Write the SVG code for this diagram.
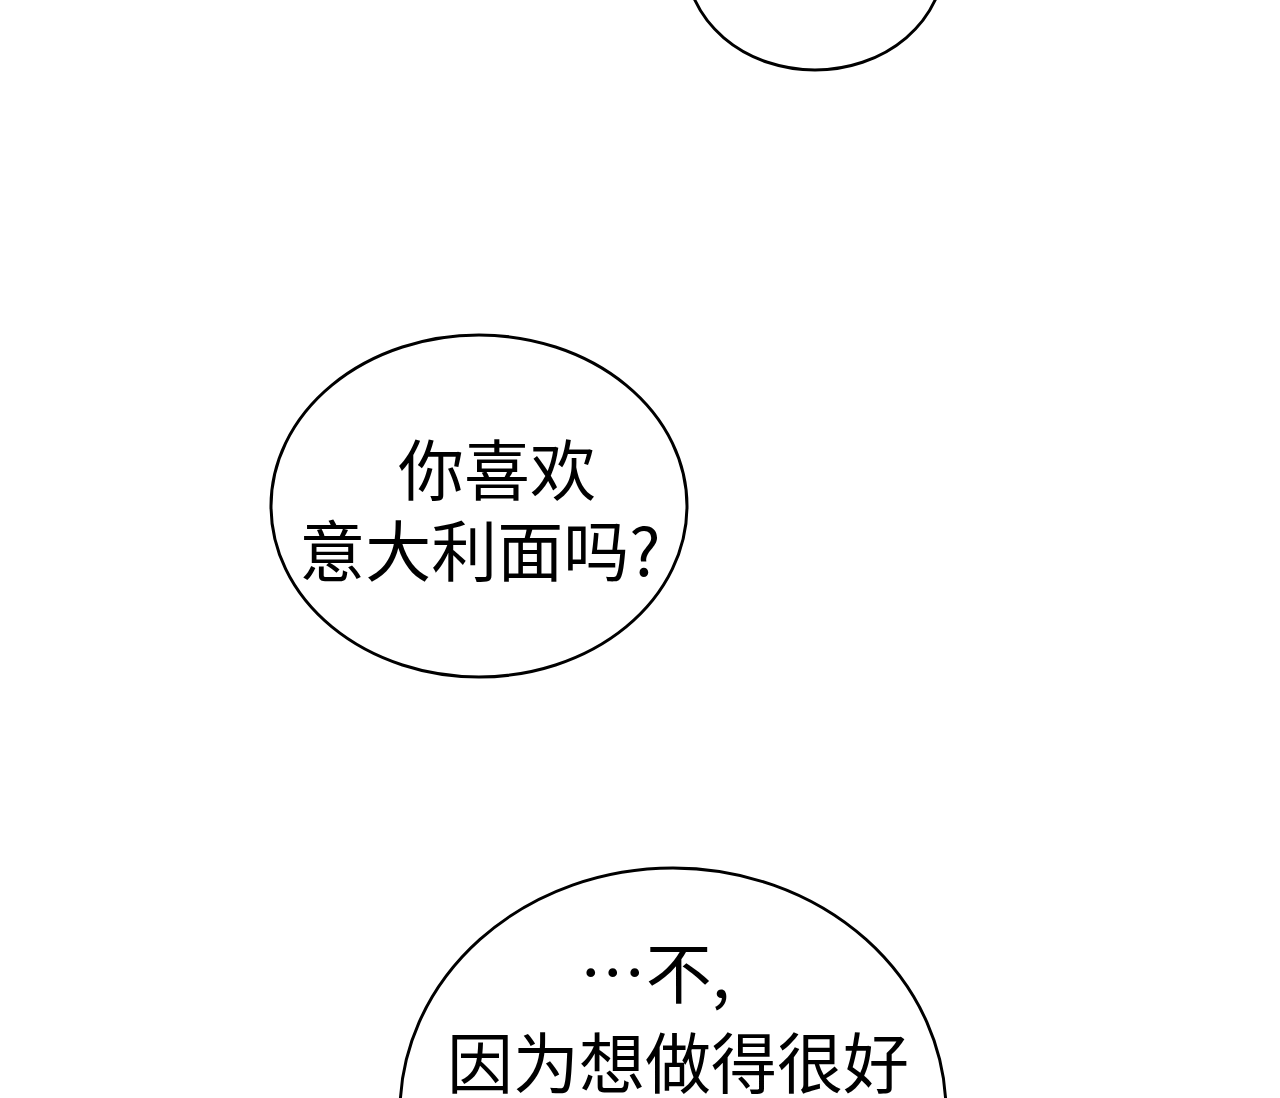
<svg xmlns="http://www.w3.org/2000/svg" width="1280" height="1098" viewBox="0 0 1280 1098">
<style>
.b{fill:#fff;stroke:#000;stroke-width:3}
.t{font-family:"Noto Sans CJK SC",sans-serif;fill:#000;text-anchor:middle;font-size:66px;font-weight:400}
</style>
<rect width="1280" height="1098" fill="#fff"/>
<g id="bubble1"><ellipse class="b" cx="815" cy="-40" rx="129" ry="110"/></g>
<g id="bubble2"><ellipse class="b" cx="479" cy="506" rx="208" ry="171"/>
<text class="t" x="497" y="495">你喜欢</text>
<text class="t" x="480" y="576">意大利面吗?</text></g>
<g id="bubble3"><ellipse class="b" cx="673" cy="1112" rx="273" ry="244"/>
<text class="t" x="655" y="998">…不,</text>
<text class="t" x="678" y="1088">因为想做得很好</text></g>
</svg>
